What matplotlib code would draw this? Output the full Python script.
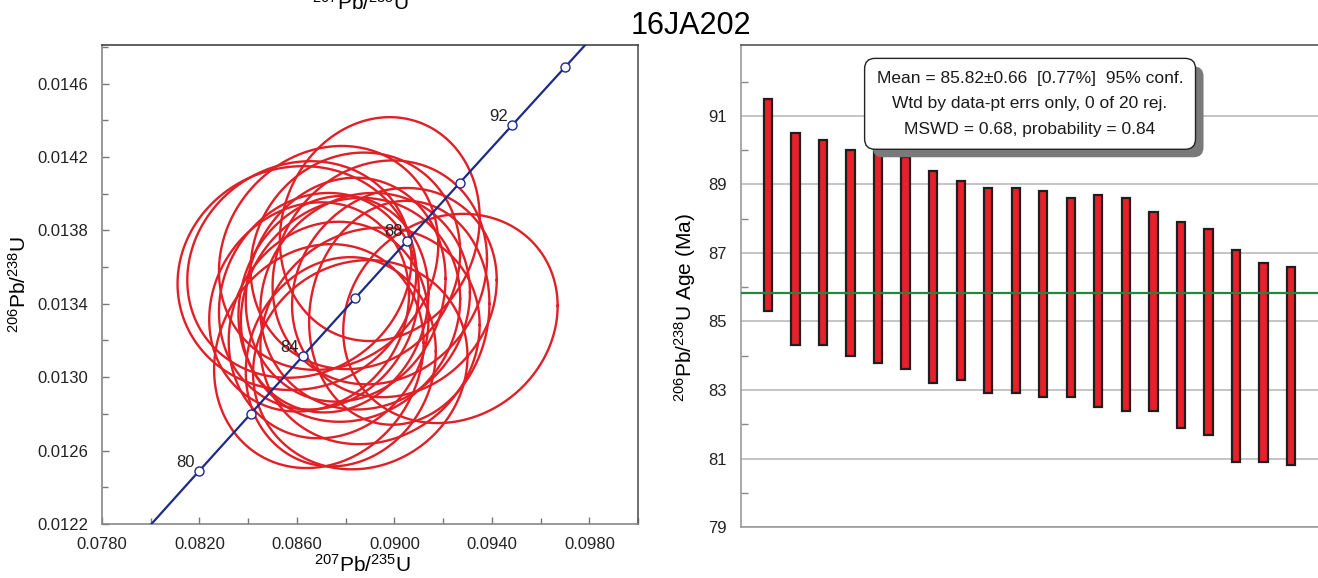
import numpy as np
import matplotlib
matplotlib.use("Agg")
import matplotlib.pyplot as plt
from matplotlib.ticker import FixedLocator, FormatStrFormatter
from matplotlib.patches import FancyBboxPatch
from matplotlib.transforms import IdentityTransform

plt.rcParams['font.family'] = ['Liberation Sans', 'DejaVu Sans']
plt.rcParams['mathtext.fontset'] = 'custom'
plt.rcParams['mathtext.rm'] = 'Liberation Sans'
plt.rcParams['mathtext.default'] = 'regular'

sample = "16JA202"

# 206Pb/238U spot ages, ends of the error bars (Ma), sorted high to low
age_top = [91.5, 90.5, 90.3, 90.0, 90.0, 89.8, 89.4, 89.1, 88.9, 88.9,
           88.8, 88.6, 88.7, 88.6, 88.2, 87.9, 87.7, 87.1, 86.7, 86.6]
age_bot = [85.3, 84.3, 84.3, 84.0, 83.8, 83.6, 83.2, 83.3, 82.9, 82.9,
           82.8, 82.8, 82.5, 82.4, 82.4, 81.9, 81.7, 80.9, 80.9, 80.8]
mean_age = 85.82
box_lines = ["Mean = 85.82\u00b10.66  [0.77%]  95% conf.",
             "Wtd by data-pt errs only, 0 of 20 rej.",
             "MSWD = 0.68, probability = 0.84"]
age_ticks = [79, 81, 83, 85, 87, 89, 91]
age_minor = [80, 82, 84, 86, 88, 90, 92]

# error ellipses (ratios + half extents of the ellipse)
r75 = [0.0894, 0.0873, 0.0884, 0.0861, 0.0894, 0.0860, 0.0880, 0.0900, 0.0869, 0.0888,
       0.0875, 0.0865, 0.0882, 0.0902, 0.0923, 0.0873, 0.0890, 0.0869, 0.0878, 0.0886]
r75_err = [0.0041, 0.0045, 0.0043, 0.0046, 0.0044, 0.0049, 0.0041, 0.0042, 0.0041, 0.0043,
           0.0039, 0.0041, 0.0045, 0.0037, 0.0044, 0.0041, 0.0045, 0.0043, 0.0039, 0.0044]
r68 = [0.013807, 0.013650, 0.013634, 0.013587, 0.013571, 0.013540, 0.013477, 0.013461, 0.013414, 0.013414,
       0.013398, 0.013383, 0.013367, 0.013351, 0.013320, 0.013257, 0.013225, 0.013115, 0.013084, 0.013068]
r68_err = [0.00061, 0.00061, 0.00059, 0.00059, 0.00061, 0.00061, 0.00061, 0.00057, 0.00059, 0.00059,
           0.00059, 0.00057, 0.00061, 0.00061, 0.00057, 0.00059, 0.00059, 0.00061, 0.00057, 0.00057]
rho = [0.10, 0.12, 0.08, 0.10, 0.12, 0.05, 0.10, 0.12, 0.10, 0.08,
       0.10, 0.12, 0.10, 0.08, 0.12, 0.10, 0.10, 0.12, 0.10, 0.08]

# axis ticks
x_ticks = [0.0780, 0.0820, 0.0860, 0.0900, 0.0940, 0.0980]
x_minor = [0.0800, 0.0840, 0.0880, 0.0920, 0.0960, 0.1000]
y_ticks = [0.0122, 0.0126, 0.0130, 0.0134, 0.0138, 0.0142, 0.0146]
y_minor = [0.0124, 0.0128, 0.0132, 0.0136, 0.0140, 0.0144, 0.0148]

# concordia tick ages (Ma)
conc_ticks = [80, 82, 84, 86, 88, 90, 92, 94]
conc_labels = [80, 84, 88, 92]

LAM238 = 1.55125e-4  # per Ma
LAM235 = 9.8485e-4


def concordia(t):
    t = np.asarray(t, dtype=float)
    return np.exp(LAM235 * t) - 1, np.exp(LAM238 * t) - 1


fig = plt.figure(figsize=(13.18, 5.78), dpi=100)
ax1 = fig.add_axes([0.0774, 0.0934, 0.4067, 0.8287])
ax2 = fig.add_axes([0.5622, 0.0882, 0.4378, 0.8339])

# ---- concordia panel ----
red = '#e01f27'
navy = '#1c2a8a'
th = np.linspace(0, 2 * np.pi, 300)
for cx, sx, cy, sy, r in zip(r75, r75_err, r68, r68_err, rho):
    ex = cx + sx * np.cos(th)
    ey = cy + sy * (r * np.cos(th) + np.sqrt(1 - r * r) * np.sin(th))
    ax1.plot(ex, ey, color=red, lw=1.7, zorder=2)

tt = np.linspace(74, 100, 200)
cxl, cyl = concordia(tt)
ax1.plot(cxl, cyl, color=navy, lw=1.6, zorder=3)
mx, my = concordia(conc_ticks)
ax1.plot(mx, my, 'o', ms=6.5, mfc='white', mec=navy, mew=1.0, zorder=4)
for a in conc_labels:
    lx, ly = concordia(a)
    ax1.annotate(str(a), (lx, ly), xytext=(-3, 1), textcoords='offset points',
                 ha='right', va='bottom', fontsize=12, color='#222222', zorder=5)

ax1.set_xlim(0.078, 0.100)
ax1.set_ylim(0.0122, 0.01481)
ax1.xaxis.set_major_locator(FixedLocator(x_ticks))
ax1.xaxis.set_minor_locator(FixedLocator(x_minor))
ax1.yaxis.set_major_locator(FixedLocator(y_ticks))
ax1.yaxis.set_minor_locator(FixedLocator(y_minor))
ax1.xaxis.set_major_formatter(FormatStrFormatter('%.4f'))
ax1.yaxis.set_major_formatter(FormatStrFormatter('%.4f'))
ax1.tick_params(which='both', direction='in', color='#777777', labelsize=12,
                labelcolor='#222222', top=False, right=False)
ax1.tick_params(which='major', length=5, width=1)
ax1.tick_params(which='minor', length=4, width=1)
ax1.tick_params(axis='y', pad=10)
ax1.tick_params(axis='x', pad=9)
for side, c in [('top', '#444444'), ('right', '#555555'), ('left', '#888888'), ('bottom', '#888888')]:
    ax1.spines[side].set_color(c)
    ax1.spines[side].set_linewidth(1.2)

fig.text(0.014, 0.508, r'$^{206}$Pb/$^{238}$U', rotation=90, ha='center', va='center', fontsize=15)
fig.text(0.2747, 0.0225, r'$^{207}$Pb/$^{235}$U', ha='center', va='center', fontsize=15)
# clipped duplicate label at the very top edge
fig.text(0.2732, 1 - 10 / 578, r'$^{207}$Pb/$^{235}$U', ha='center', va='baseline', fontsize=15)
fig.text(691 / 1318, 1 - 34 / 578, sample, ha='center', va='baseline', fontsize=22)

# ---- weighted mean panel ----
x = np.arange(1, len(age_top) + 1)
heights = np.array(age_top) - np.array(age_bot)
ax2.set_axisbelow(True)
ax2.yaxis.grid(True, which='major', color='#b4b4b4', lw=1.1)
ax2.bar(x, heights, bottom=age_bot, width=0.3, color='#e8202a', edgecolor='#1e1e1e',
        linewidth=1.6, zorder=3)
ax2.axhline(mean_age, color='#1f8a3f', lw=1.6, zorder=4)

ax2.set_xlim(0.02, 20.98)
ax2.set_ylim(79, 93.07)
ax2.yaxis.set_major_locator(FixedLocator(age_ticks))
ax2.yaxis.set_minor_locator(FixedLocator(age_minor))
ax2.xaxis.set_visible(False)
ax2.tick_params(which='both', direction='in', color='#888888', labelsize=12,
                labelcolor='#222222', right=False, pad=10)
ax2.tick_params(which='major', length=0)
ax2.tick_params(which='minor', length=5, width=1)
ax2.spines['right'].set_visible(False)
ax2.spines['top'].set_color('#555555')
ax2.spines['left'].set_color('#999999')
ax2.spines['bottom'].set_color('#999999')
for s in ax2.spines.values():
    s.set_linewidth(1.2)

fig.text(685 / 1318, 1 - 308 / 578, r'$^{206}$Pb/$^{238}$U Age (Ma)', rotation=90,
         ha='center', va='center', fontsize=15)

# stats box with a drop shadow
txt = "\n".join(box_lines)
box = ax2.text(0.501, 0.878, txt, transform=ax2.transAxes, ha='center', va='center',
               multialignment='center', fontsize=12.5, linespacing=1.9, color='#1a1a1a', zorder=6,
               bbox=dict(boxstyle='round,pad=0.7,rounding_size=0.6', fc='white', ec='#222222', lw=1.0))
fig.canvas.draw()
bb = box.get_bbox_patch().get_window_extent()
shadow = FancyBboxPatch((bb.x0 + 8, bb.y0 - 8), bb.width, bb.height,
                        boxstyle='round,pad=0,rounding_size=10', fc='#7a7a7a', ec='none',
                        transform=IdentityTransform(), zorder=5)
ax2.add_artist(shadow)

fig.savefig('out.png', dpi=100)
